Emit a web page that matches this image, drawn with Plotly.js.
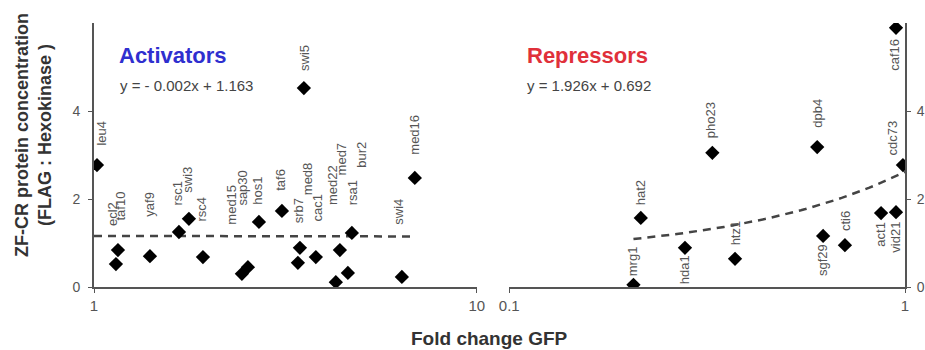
<!DOCTYPE html>
<html>
<head>
<meta charset="utf-8">
<script src="https://cdn.plot.ly/plotly-3.0.1.min.js"></script>
<style>html,body{margin:0;padding:0;background:#fff;}</style>
</head>
<body>
<div id="chart" style="width:925px;height:350px;"></div>
<script>
// ---- Activators (left panel) ----
const actNames = ['leu4','taf10','ecl2','yaf9','rsc1','swi3','rsc4','med15','sap30','hos1','taf6','srb7','med8','cac1','med7','med22','rsa1','bur2','swi5','swi4','med16'];
const actFold  = [1.018,1.155,1.141,1.400,1.667,1.770,1.926,2.434,2.524,2.697,3.097,3.451,3.409,3.798,4.389,4.283,4.717,4.605,3.534,6.372,6.888];
const actConc  = [2.77,0.84,0.52,0.70,1.25,1.55,0.68,0.30,0.45,1.48,1.73,0.89,0.55,0.68,0.84,0.11,1.23,0.32,4.52,0.23,2.48];
// ---- Repressors (right panel) ----
const repNames = ['mrg1','hat2','hda1','pho23','htz1','dpb4','sgf29','cti6','act1','vid21','cdc73','caf16'];
const repFold  = [0.206,0.215,0.278,0.326,0.372,0.600,0.621,0.705,0.870,0.949,0.988,0.949];
const repConc  = [0.05,1.57,0.89,3.05,0.64,3.18,1.16,0.95,1.68,1.70,2.77,5.89];
// regression fits printed on the chart
const actFit = {slope:-0.002, intercept:1.163, text:'y = - 0.002x + 1.163'};
const repFit = {slope:1.926, intercept:0.692, text:'y = 1.926x + 0.692'};
const xTicksAct = [1,10], xTickTextAct = ['1','10'];
const xTicksRep = [0.1,1], xTickTextRep = ['0.1','1'];
const yTicks = [0,2,4];

// label placement (style only): pixel gap from marker (negative = below), pixel x offset
const actLabelGap = [18,28,36,38,25,24,34,47,60,15,18,23,66,34,73,75,26,103,15,50,21];
const actLabelDx  = [5,3,-4,0,-1,-1,-1,-10,-5,-1,-1,-2,9,2,2,-4,1,14,0,-3,0];
const repLabelGap = [7,11,-5,13,11,17,-6,12,-7,-8,8,-9];
const repLabelDx  = [-1,0,-1,-2,0,0,0,0,0,0,-10,-1];

function fitLine(fit, x0, x1, n){
  const xs=[], ys=[];
  const l0=Math.log10(x0), l1=Math.log10(x1);
  for(let i=0;i<=n;i++){ const x=Math.pow(10,l0+(l1-l0)*i/n); xs.push(x); ys.push(fit.slope*x+fit.intercept); }
  return {xs, ys};
}
const aLine = fitLine(actFit, Math.min(...actFold)>1?1:Math.min(...actFold), Math.max(...actFold), 40);
const rLine = fitLine(repFit, Math.min(...repFold), 1, 60);

const mk = {symbol:'diamond', size:11, color:'#000'};
const dashLine = {color:'#444', width:2.5, dash:'8px,6px'};
const traces = [
  {x:aLine.xs, y:aLine.ys, xaxis:'x', yaxis:'y', mode:'lines', line:dashLine, hoverinfo:'skip'},
  {x:rLine.xs, y:rLine.ys, xaxis:'x2', yaxis:'y2', mode:'lines', line:dashLine, hoverinfo:'skip'},
  {x:actFold, y:actConc, text:actNames, xaxis:'x', yaxis:'y', mode:'markers', marker:mk},
  {x:repFold, y:repConc, text:repNames, xaxis:'x2', yaxis:'y2', mode:'markers', marker:mk}
];

const annotations = [];
function addLabels(names, xs, ys, gaps, dxs, xr, yr){
  names.forEach((n,i)=>{
    annotations.push({x:Math.log10(xs[i]), y:ys[i], xref:xr, yref:yr, text:n, textangle:-90, showarrow:false,
      xanchor:'center', yanchor: gaps[i]>=0?'bottom':'top', yshift:gaps[i], xshift:dxs[i],
      font:{size:13, color:'#555', family:'Liberation Sans, Arial, sans-serif'}});
  });
}
addLabels(actNames, actFold, actConc, actLabelGap, actLabelDx, 'x', 'y');
addLabels(repNames, repFold, repConc, repLabelGap, repLabelDx, 'x2', 'y2');

const W=811, H=264, L=94, T=23;
const px = v => (v-L)/W, py = v => (T+H-v)/H;
annotations.push(
  {xref:'paper', yref:'paper', x:px(117), y:py(55), xanchor:'left', yanchor:'middle', showarrow:false, text:'<b>Activators</b>', font:{size:22, color:'#2f2fcf'}},
  {xref:'paper', yref:'paper', x:px(118), y:py(85), xanchor:'left', yanchor:'middle', showarrow:false, text:actFit.text, font:{size:15, color:'#444'}},
  {xref:'paper', yref:'paper', x:px(525), y:py(55), xanchor:'left', yanchor:'middle', showarrow:false, text:'<b>Repressors</b>', font:{size:22, color:'#e0303a'}},
  {xref:'paper', yref:'paper', x:px(525), y:py(85), xanchor:'left', yanchor:'middle', showarrow:false, text:repFit.text, font:{size:15, color:'#444'}},
  {xref:'paper', yref:'paper', x:px(22), y:py(135), xanchor:'center', yanchor:'middle', textangle:-90, showarrow:false, text:'<b>ZF-CR protein concentration</b>', font:{size:18, color:'#333'}},
  {xref:'paper', yref:'paper', x:px(45), y:py(135), xanchor:'center', yanchor:'middle', textangle:-90, showarrow:false, text:'<b>(FLAG : Hexokinase )</b>', font:{size:18, color:'#333'}},
  {xref:'paper', yref:'paper', x:px(489), y:py(338), xanchor:'center', yanchor:'middle', showarrow:false, text:'<b>Fold change GFP</b>', font:{size:19, color:'#333'}}
);

const axCommon = {showgrid:false, zeroline:false, showline:true, linecolor:'#555', linewidth:2,
  ticks:'outside', ticklen:4, tickcolor:'#555', tickwidth:1, tickfont:{size:15, color:'#555'}, fixedrange:true};
const layout = {
  width:925, height:350,
  margin:{l:94, r:20, t:23, b:63, pad:0},
  paper_bgcolor:'#fff', plot_bgcolor:'#fff', showlegend:false,
  font:{family:'Liberation Sans, Arial, sans-serif', color:'#555'},
  xaxis:Object.assign({}, axCommon, {type:'log', domain:[0,0.472], range:[0,1], tickvals:xTicksAct, ticktext:xTickTextAct, anchor:'y'}),
  xaxis2:Object.assign({}, axCommon, {type:'log', domain:[0.512,1], range:[-1,0], tickvals:xTicksRep, ticktext:xTickTextRep, anchor:'y2'}),
  yaxis:Object.assign({}, axCommon, {range:[0,6], tickvals:yTicks, anchor:'x', ticklabelstandoff:5, tickfont:{size:14,color:'#555'}}),
  yaxis2:Object.assign({}, axCommon, {range:[0,6], tickvals:yTicks, anchor:'x2', side:'right', ticklabelstandoff:3, tickfont:{size:14,color:'#555'}}),
  annotations
};
Plotly.newPlot('chart', traces, layout, {displayModeBar:false, staticPlot:true});
</script>
</body>
</html>
